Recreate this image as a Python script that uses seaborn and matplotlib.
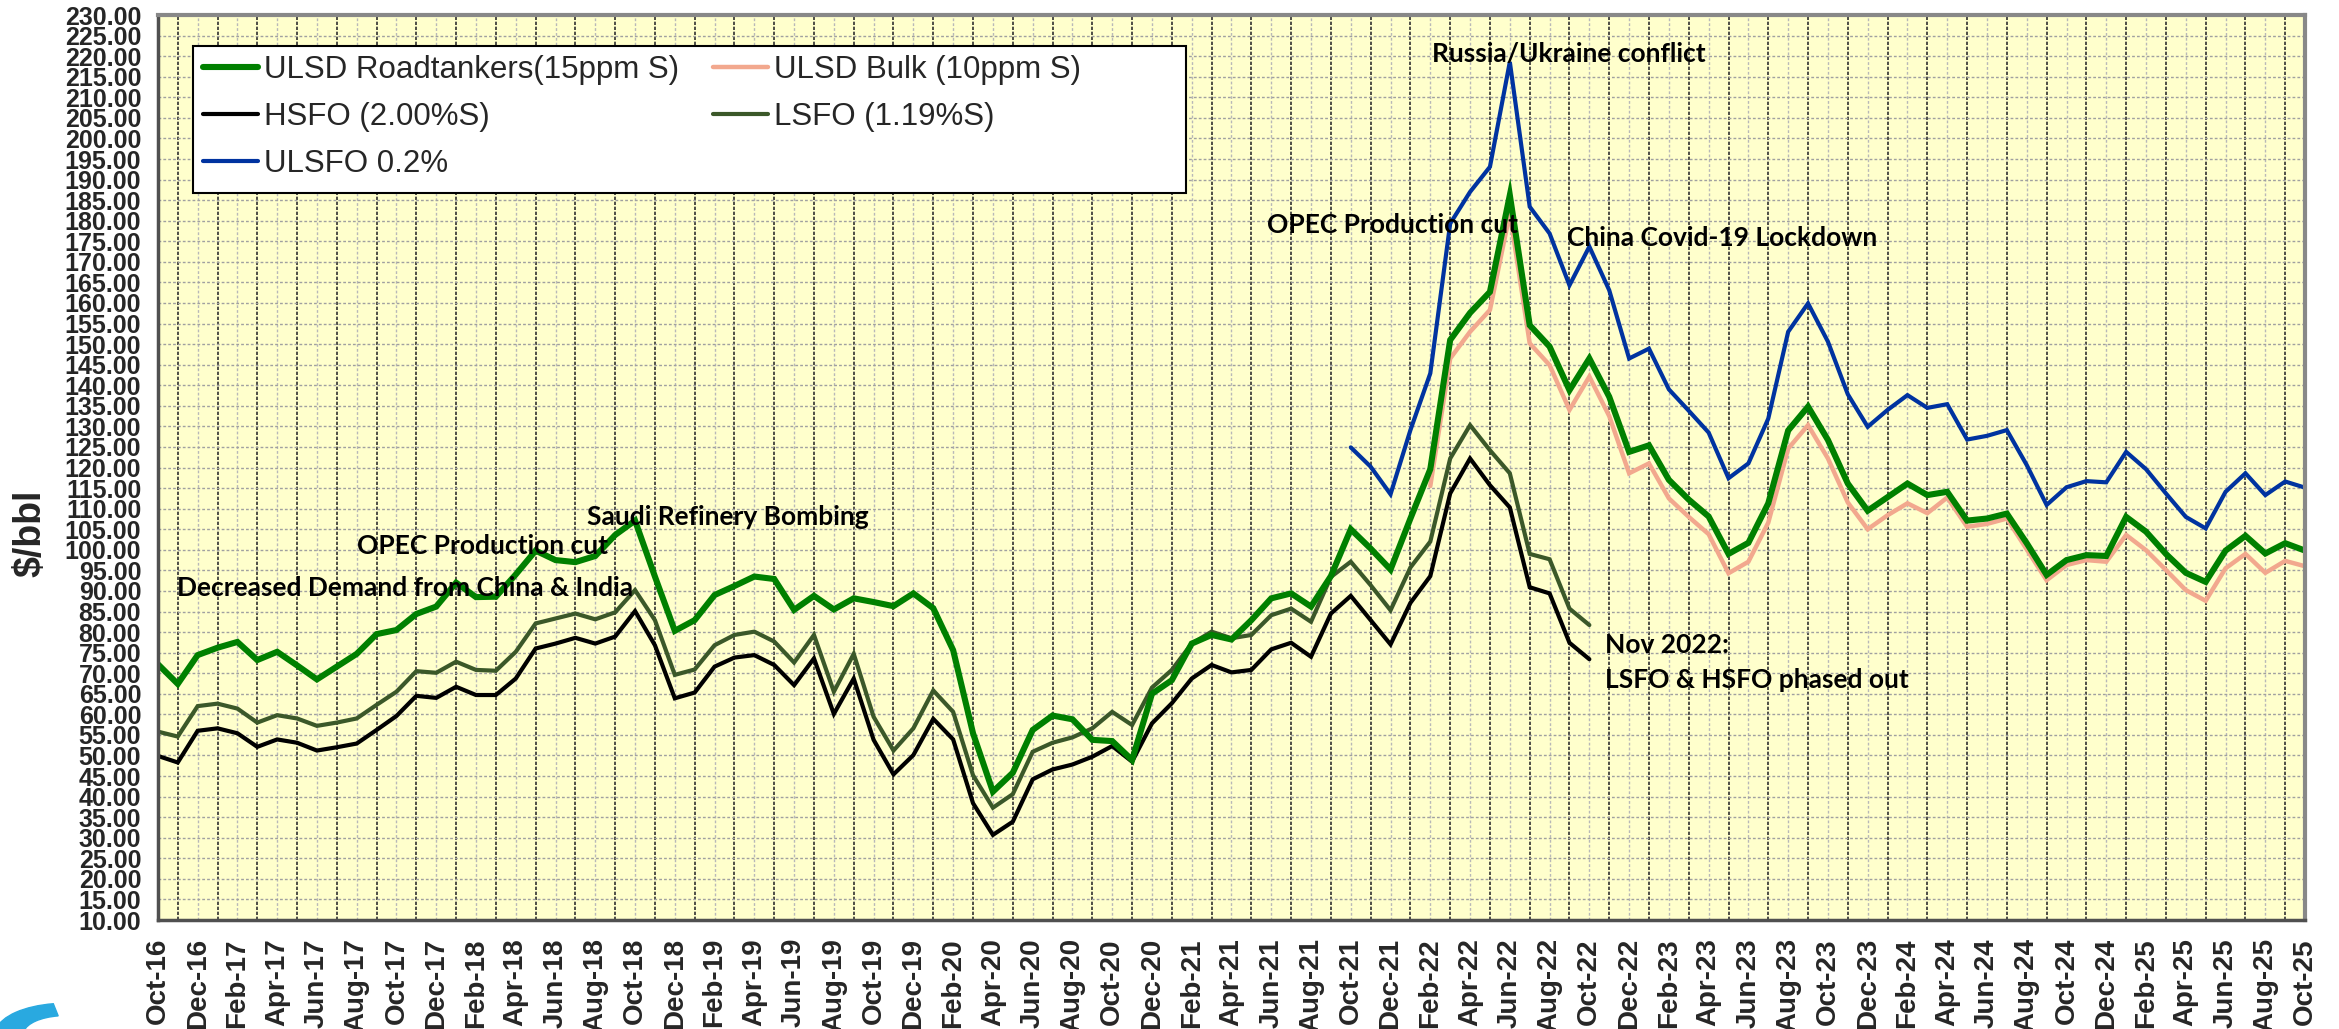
import numpy as np
import pandas as pd
import matplotlib
matplotlib.use("Agg")
import matplotlib.pyplot as plt
import matplotlib.font_manager as fm
from matplotlib.ticker import MultipleLocator, FormatStrFormatter
from matplotlib.patches import Wedge, Rectangle
import seaborn as sns

# --- Data (monthly, Oct-16 .. Oct-25, $/bbl) ---
tick_labels = [
    "Oct-16", "Dec-16", "Feb-17", "Apr-17", "Jun-17", "Aug-17", "Oct-17", "Dec-17",
    "Feb-18", "Apr-18", "Jun-18", "Aug-18", "Oct-18", "Dec-18", "Feb-19", "Apr-19",
    "Jun-19", "Aug-19", "Oct-19", "Dec-19", "Feb-20", "Apr-20", "Jun-20", "Aug-20",
    "Oct-20", "Dec-20", "Feb-21", "Apr-21", "Jun-21", "Aug-21", "Oct-21", "Dec-21",
    "Feb-22", "Apr-22", "Jun-22", "Aug-22", "Oct-22", "Dec-22", "Feb-23", "Apr-23",
    "Jun-23", "Aug-23", "Oct-23", "Dec-23", "Feb-24", "Apr-24", "Jun-24", "Aug-24",
    "Oct-24", "Dec-24", "Feb-25", "Apr-25", "Jun-25", "Aug-25", "Oct-25",
]

# ULSD Roadtankers (15ppm S), from Oct-16
ulsd_road = [
    72.2, 67.4, 74.4, 76.2, 77.6, 73.2, 75.2, 71.9, 68.5, 71.6, 74.7, 79.5,
    80.5, 84.4, 86.2, 92.0, 88.5, 88.6, 94.0, 99.8, 97.5, 97.0, 98.5, 103.6,
    107.1, 93.5, 80.3, 82.9, 89.0, 91.2, 93.5, 92.9, 85.4, 88.8, 85.5, 88.2,
    87.3, 86.3, 89.4, 85.8, 75.6, 55.4, 41.2, 45.8, 56.2, 59.7, 58.8, 53.8,
    53.5, 48.9, 65.0, 68.3, 77.2, 79.3, 78.2, 82.9, 88.2, 89.4, 86.2, 93.6,
    105.0, 100.3, 95.2, 107.6, 119.6, 151.0, 157.6, 162.7, 186.2, 154.6, 149.4, 138.8,
    146.5, 137.2, 123.8, 125.4, 117.0, 112.2, 108.1, 99.0, 101.7, 111.3, 129.0, 134.8,
    126.7, 116.1, 109.5, 112.8, 116.1, 113.3, 114.1, 107.1, 107.6, 108.8, 101.6, 93.9,
    97.5, 98.7, 98.5, 108.0, 104.4, 99.0, 94.4, 92.2, 99.8, 103.4, 99.1, 101.6,
    99.8,
]

# ULSD Bulk (10ppm S), from Feb-22
ulsd_bulk_start = 64
ulsd_bulk = [
    115.5, 146.5, 153.0, 158.3, 181.8, 150.2, 144.9, 134.0, 142.1, 132.5, 118.6, 121.0,
    112.5, 108.0, 103.8, 94.3, 97.1, 106.6, 124.6, 130.3, 122.2, 111.5, 105.0, 108.4,
    111.3, 108.9, 112.7, 105.6, 106.3, 107.6, 100.1, 92.6, 96.3, 97.5, 97.1, 103.6,
    99.9, 95.1, 90.2, 87.6, 95.5, 99.0, 94.4, 97.3, 96.0,
]

# HSFO (2.00%S), Oct-16 .. Oct-22
hsfo = [
    49.9, 48.3, 56.0, 56.6, 55.4, 52.1, 53.9, 53.1, 51.2, 52.0, 52.9, 56.2,
    59.6, 64.5, 64.0, 66.7, 64.7, 64.7, 68.7, 76.0, 77.2, 78.6, 77.2, 78.9,
    85.1, 76.8, 63.9, 65.3, 71.6, 73.8, 74.4, 72.0, 67.1, 73.6, 60.1, 68.7,
    53.8, 45.4, 50.1, 58.9, 53.9, 38.4, 30.7, 33.9, 44.2, 46.6, 47.8, 49.7,
    52.3, 48.5, 57.8, 62.7, 68.7, 72.0, 70.2, 70.8, 75.8, 77.4, 74.0, 84.5,
    88.8, 82.9, 77.0, 87.1, 93.6, 113.7, 122.2, 115.7, 110.3, 90.9, 89.4, 77.4,
    73.4,
]

# LSFO (1.19%S), Oct-16 .. Oct-22
lsfo = [
    55.8, 54.6, 62.0, 62.6, 61.4, 58.0, 59.8, 59.0, 57.2, 58.0, 59.0, 62.3,
    65.5, 70.5, 70.1, 72.8, 70.8, 70.6, 75.2, 82.1, 83.3, 84.5, 83.1, 84.8,
    90.2, 82.9, 69.6, 70.9, 76.8, 79.3, 80.1, 77.7, 72.6, 79.3, 65.5, 74.7,
    59.4, 51.2, 56.6, 65.8, 60.6, 45.2, 37.3, 40.6, 50.9, 53.1, 54.4, 56.6,
    60.6, 57.4, 66.5, 70.8, 77.2, 80.1, 78.5, 79.3, 84.1, 85.7, 82.5, 93.4,
    97.1, 91.4, 85.3, 95.7, 102.0, 122.2, 130.3, 124.2, 118.6, 99.0, 97.7, 85.7,
    81.7,
]

# ULSFO 0.2%, from Oct-21
ulsfo_start = 60
ulsfo = [
    124.9, 120.2, 113.5, 129.1, 142.9, 179.3, 187.0, 193.1, 218.6, 183.4, 176.9, 164.3,
    173.7, 163.1, 146.5, 148.9, 139.0, 133.8, 128.5, 117.4, 121.0, 131.9, 153.0, 159.9,
    150.6, 137.8, 129.9, 134.0, 137.6, 134.5, 135.4, 126.8, 127.7, 129.1, 120.6, 110.9,
    115.2, 116.7, 116.4, 123.8, 119.6, 113.7, 108.0, 105.2, 114.1, 118.6, 113.3, 116.6,
    115.1,
]

# --- Build dataframes ---
n_months = len(ulsd_road)
series = {
    "ULSD Roadtankers(15ppm S)": (0, ulsd_road, "#008000", 4.4),
    "ULSD Bulk (10ppm S)": (ulsd_bulk_start, ulsd_bulk, "#f2a88e", 3.2),
    "HSFO (2.00%S)": (0, hsfo, "#000000", 3.0),
    "LSFO (1.19%S)": (0, lsfo, "#3b5829", 3.0),
    "ULSFO 0.2%": (ulsfo_start, ulsfo, "#0033a0", 3.0),
}

sns.set_style("white")
names = {f.name for f in fm.fontManager.ttflist}
plt.rcParams["font.family"] = ["Liberation Sans", "DejaVu Sans"]

fig = plt.figure(figsize=(23.39, 10.29), dpi=100)
ax = fig.add_axes([0.0675, 0.1059, 0.918, 0.8795])
ax.set_facecolor("#ffffcc")

draw_order = ["LSFO (1.19%S)", "HSFO (2.00%S)", "ULSFO 0.2%",
              "ULSD Bulk (10ppm S)", "ULSD Roadtankers(15ppm S)"]
for name in draw_order:
    start, vals, color, lw = series[name]
    df = pd.DataFrame({"month": np.arange(start, start + len(vals)), "price": vals})
    sns.lineplot(data=df, x="month", y="price", color=color, linewidth=lw,
                 ax=ax, label=name, solid_capstyle="round", solid_joinstyle="miter")

# legend box (Excel style, wider than its text)
ax.add_patch(Rectangle((0.0163, 0.8033), 0.4625, 0.1624, transform=ax.transAxes,
                       facecolor="white", edgecolor="black", linewidth=1.5,
                       zorder=4.8, clip_on=False))
lines = {l.get_label(): l for l in ax.get_lines()}
order = ["ULSD Roadtankers(15ppm S)", "HSFO (2.00%S)", "ULSFO 0.2%",
         "ULSD Bulk (10ppm S)", "LSFO (1.19%S)"]
leg = ax.legend([lines[k] for k in order], order, ncol=2, loc="upper left",
                bbox_to_anchor=(0.0175, 0.9645), borderaxespad=0,
                prop={"family": "Liberation Sans", "size": 22.5},
                frameon=False, handlelength=1.76, handletextpad=0.18,
                columnspacing=1.1, labelspacing=0.55, borderpad=0.25)
leg.set_zorder(5)

# --- Axes, ticks, grid ---
ax.set_xlim(0, n_months - 1)
ax.set_ylim(10, 230)
ax.xaxis.set_minor_locator(MultipleLocator(1))
ax.set_xticks(np.arange(0, n_months, 2))
ax.set_xticklabels(tick_labels, rotation=90, fontsize=20, fontweight="bold",
                   family="Liberation Sans")
ax.yaxis.set_major_locator(MultipleLocator(5))
ax.yaxis.set_major_formatter(FormatStrFormatter("%.2f"))
if "Liberation Sans Narrow" in names:
    yfam, ysize = "Liberation Sans Narrow", 21
else:
    yfam, ysize = "Liberation Sans", 18
for t in ax.get_yticklabels():
    t.set_family(yfam)
    t.set_fontsize(ysize)
    t.set_fontweight("bold")

ax.tick_params(axis="x", which="major", direction="out", length=7, width=1.5,
               color="#404040", pad=6)
ax.tick_params(axis="x", which="minor", length=0)
ax.tick_params(axis="y", which="major", direction="out", length=8, width=1.5,
               color="#404040", pad=4)
ax.grid(axis="y", which="major", color="#a0a0a0", linestyle=(0, (2, 1.5)), linewidth=1.0)
ax.grid(axis="x", which="major", color="#b8b8b8", linestyle=(0, (2, 1.5)), linewidth=1.0)
ax.grid(axis="x", which="minor", color="#303030", linestyle=(0, (2, 1)), linewidth=1.2)
ax.set_axisbelow(True)

for side in ["left", "bottom"]:
    ax.spines[side].set_color("#505050")
    ax.spines[side].set_linewidth(2.5)
for side in ["top", "right"]:
    ax.spines[side].set_color("#888888")
    ax.spines[side].set_linewidth(3)

ax.set_xlabel("")
ax.set_ylabel("")
fig.text(30 / 2339, 1 - 533 / 1029, "$/bbl", rotation=90, ha="center", va="center",
         fontsize=27, fontweight="bold", family="Liberation Sans")

# --- Annotations ---
afont = dict(fontsize=19, fontweight="bold", family=["Lato", "DejaVu Sans"],
             color="black", zorder=6)
ax.text(0.96, 90.7, "Decreased Demand from China & India", ha="left", va="center", **afont)
ax.text(10.0, 100.9, "OPEC Production cut", ha="left", va="center", **afont)
ax.text(21.6, 108.0, "Saudi Refinery Bombing", ha="left", va="center", **afont)
ax.text(55.8, 178.9, "OPEC Production cut", ha="left", va="center", **afont)
ax.text(64.1, 220.5, "Russia/Ukraine conflict", ha="left", va="center", **afont)
ax.text(70.9, 175.8, "China Covid-19 Lockdown", ha="left", va="center", **afont)
ax.text(72.8, 76.8, "Nov 2022:", ha="left", va="center", **afont)
ax.text(72.8, 68.3, "LSFO & HSFO phased out", ha="left", va="center", **afont)

# partial logo in the bottom-left corner
fig.patches.append(Wedge((0.028, -0.005), 0.03, 100, 170, width=0.012,
                         transform=fig.transFigure, color="#29a9e0", figure=fig))
fig.patches.append(Wedge((0.03, -0.02), 0.02, 110, 160, width=0.008,
                         transform=fig.transFigure, color="#f39a1e", figure=fig))

fig.savefig("out.png", dpi=100)
